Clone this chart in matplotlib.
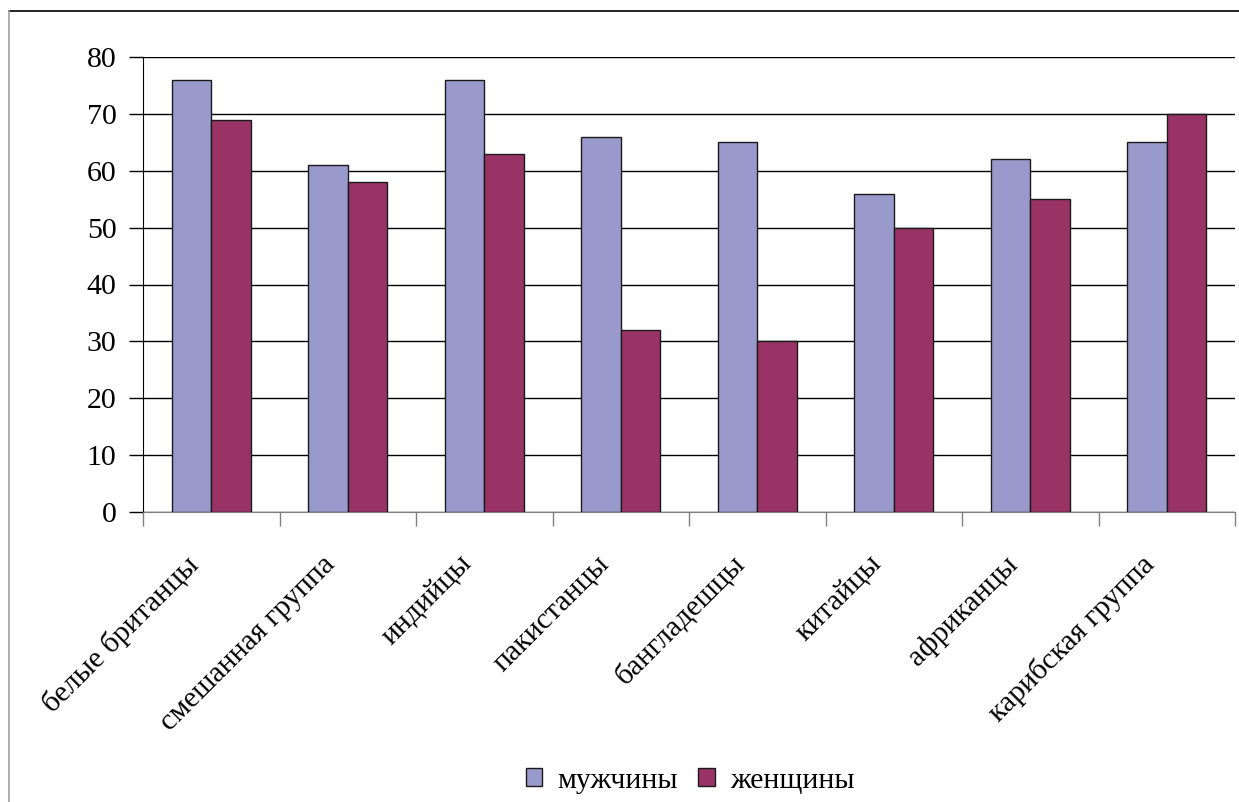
import numpy as np
import matplotlib
matplotlib.use("Agg")
import matplotlib.pyplot as plt
import matplotlib.transforms as mtransforms
from matplotlib.lines import Line2D

CATEGORIES = ["белые британцы", "смешанная группа", "индийцы", "пакистанцы",
              "бангладешцы", "китайцы", "африканцы", "карибская группа"]
MEN = [76, 61, 76, 66, 65, 56, 62, 65]
WOMEN = [69, 58, 63, 32, 30, 50, 55, 70]
SERIES_NAMES = ["мужчины", "женщины"]

plt.rcParams["font.family"] = ["Liberation Serif", "DejaVu Serif"]

W, H = 1239, 802
fig = plt.figure(figsize=(W / 100, H / 100), dpi=100)
ax = fig.add_axes([143 / W, 1 - 512 / H, (1235 - 143) / W, (512 - 57) / H])

x = np.arange(len(CATEGORIES))
bw = 0.29
ax.bar(x - bw / 2, MEN, bw, color="#9999cc", edgecolor="#1a1a1a", lw=1.0,
       label=SERIES_NAMES[0], zorder=3)
ax.bar(x + bw / 2, WOMEN, bw, color="#993366", edgecolor="#1a1a1a", lw=1.0,
       label=SERIES_NAMES[1], zorder=3)

ax.set_xlim(-0.5, len(CATEGORIES) - 0.5)
ax.set_ylim(0, 80)
ax.set_yticks(range(0, 81, 10))
ax.yaxis.grid(True, color="black", lw=1.0, zorder=0)
ax.tick_params(axis="y", labelsize=21.5, length=10, width=1, pad=9, color="black")

ax.set_xticks(x)
ax.set_xticks(np.arange(len(CATEGORIES) + 1) - 0.5, minor=True)
ax.tick_params(axis="x", which="major", length=0, pad=28)
ax.tick_params(axis="x", which="minor", length=10, width=1, color="#808080")
ax.set_xticklabels(CATEGORIES, rotation=45, ha="right", va="top", fontsize=21.5)
shift = mtransforms.ScaledTranslation(-7 / 100, 0, fig.dpi_scale_trans)
for lab in ax.get_xticklabels():
    lab.set_transform(lab.get_transform() + shift)

for s in ["top", "right"]:
    ax.spines[s].set_visible(False)
ax.spines["left"].set_color("black")
ax.spines["bottom"].set_color("#808080")

leg = fig.legend(loc="center", bbox_to_anchor=(690 / W, 1 - 781 / H), ncol=2,
                 frameon=False, fontsize=21.5, handlelength=0.55, handleheight=0.55,
                 handletextpad=0.5, columnspacing=0.7)

# chart frame (top and left edges visible)
fig.add_artist(Line2D([9 / W, 1], [1 - 11 / H, 1 - 11 / H], color="black", lw=1.2))
fig.add_artist(Line2D([9 / W, 9 / W], [0, 1 - 11 / H], color="#a0a0a0", lw=1.2))

fig.savefig("out.png", dpi=100)
